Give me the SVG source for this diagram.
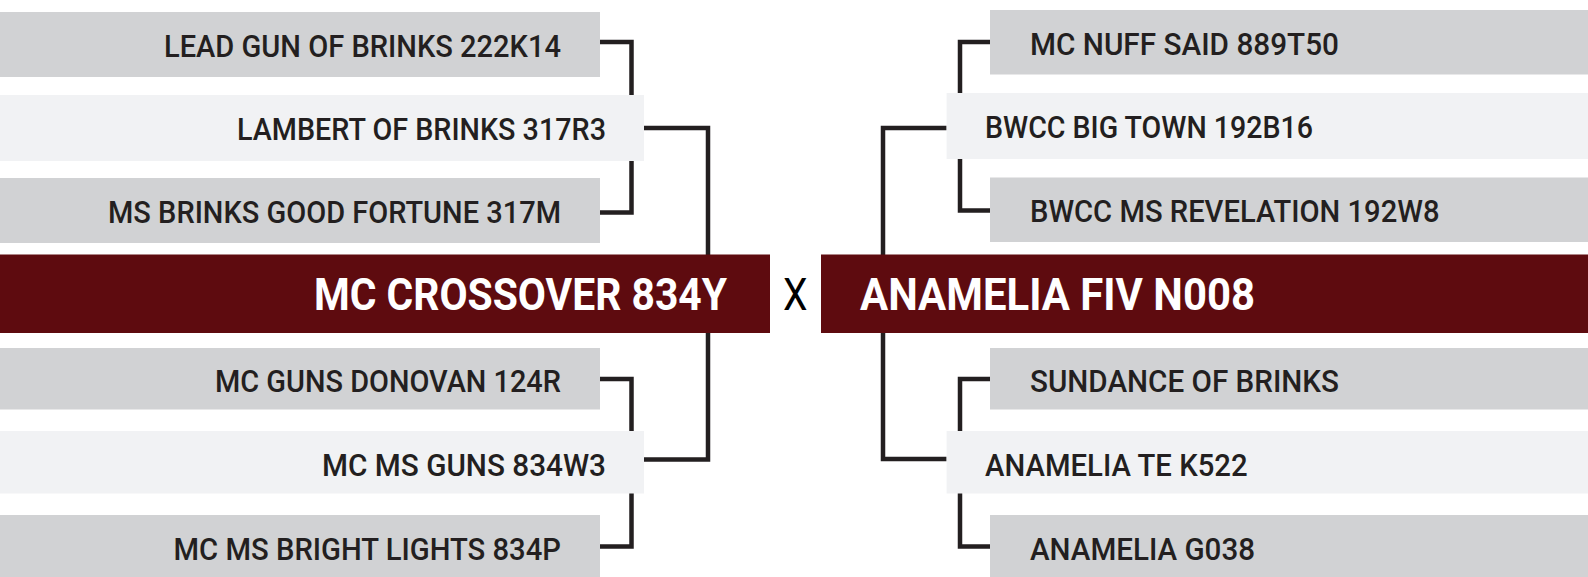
<svg xmlns="http://www.w3.org/2000/svg" width="1588" height="577" viewBox="0 0 1588 577">
<style>
.g{fill:#d1d2d4}
.l{fill:#f1f2f4}
.m{fill:#5e0b0f}
.t{font-family:Roboto,"Liberation Sans",sans-serif;font-size:32px;font-weight:500;fill:#231f20}
.tm{font-family:Roboto,"Liberation Sans",sans-serif;font-size:45px;font-weight:700;fill:#ffffff}
.x{font-family:Roboto,"Liberation Sans",sans-serif;font-size:45px;font-weight:400;fill:#000000}
.c{fill:none;stroke:#231f20;stroke-width:4.5;stroke-linejoin:miter}
</style>
<rect width="1588" height="577" fill="#ffffff"/>
<g id="connectors">
<path class="c" d="M600 42 H631.5 V95 M631.5 161 V212.5 H600"/>
<path class="c" d="M644 128 H708 V255 M708 333 V459.5 H644"/>
<path class="c" d="M600 379 H631.5 V431 M631.5 493 V546.5 H600"/>
<path class="c" d="M990 42 H960 V93 M960 159 V210.5 H990"/>
<path class="c" d="M946.6 128 H883 V255 M883 333 V459 H946.6"/>
<path class="c" d="M990 379 H960 V431 M960 493 V546.5 H990"/>
</g>
<g id="n-lead-gun"><rect class="g" x="0" y="12" width="600" height="65"/><text class="t" x="164" y="56.5" textLength="397" lengthAdjust="spacingAndGlyphs">LEAD GUN OF BRINKS 222K14</text></g>
<g id="n-lambert"><rect class="l" x="0" y="95" width="644" height="66"/><text class="t" x="237" y="140" textLength="369" lengthAdjust="spacingAndGlyphs">LAMBERT OF BRINKS 317R3</text></g>
<g id="n-good-fortune"><rect class="g" x="0" y="178" width="600" height="65"/><text class="t" x="108" y="222.5" textLength="453" lengthAdjust="spacingAndGlyphs">MS BRINKS GOOD FORTUNE 317M</text></g>
<g id="n-crossover"><rect class="m" x="0" y="254.5" width="770" height="78.5"/><text class="tm" x="314" y="310" textLength="413" lengthAdjust="spacingAndGlyphs">MC CROSSOVER 834Y</text></g>
<g id="n-donovan"><rect class="g" x="0" y="348" width="600" height="61.5"/><text class="t" x="215" y="391.5" textLength="346" lengthAdjust="spacingAndGlyphs">MC GUNS DONOVAN 124R</text></g>
<g id="n-ms-guns"><rect class="l" x="0" y="431" width="644" height="62.5"/><text class="t" x="322" y="476" textLength="284" lengthAdjust="spacingAndGlyphs">MC MS GUNS 834W3</text></g>
<g id="n-bright-lights"><rect class="g" x="0" y="515" width="600" height="62"/><text class="t" x="173.5" y="560" textLength="387.5" lengthAdjust="spacingAndGlyphs">MC MS BRIGHT LIGHTS 834P</text></g>
<g id="cross-x"><text class="x" x="783" y="310" textLength="24.5" lengthAdjust="spacingAndGlyphs">X</text></g>
<g id="n-nuff-said"><rect class="g" x="990" y="10" width="598" height="64.5"/><text class="t" x="1030" y="54.5" textLength="309" lengthAdjust="spacingAndGlyphs">MC NUFF SAID 889T50</text></g>
<g id="n-big-town"><rect class="l" x="946.6" y="93" width="641.4" height="66"/><text class="t" x="985" y="138" textLength="328" lengthAdjust="spacingAndGlyphs">BWCC BIG TOWN 192B16</text></g>
<g id="n-revelation"><rect class="g" x="990" y="177.5" width="598" height="64.5"/><text class="t" x="1030" y="221.5" textLength="409.5" lengthAdjust="spacingAndGlyphs">BWCC MS REVELATION 192W8</text></g>
<g id="n-anamelia-fiv"><rect class="m" x="821" y="254.5" width="767" height="78.5"/><text class="tm" x="860" y="310" textLength="395" lengthAdjust="spacingAndGlyphs">ANAMELIA FIV N008</text></g>
<g id="n-sundance"><rect class="g" x="990" y="348" width="598" height="61.5"/><text class="t" x="1030" y="391.5" textLength="309" lengthAdjust="spacingAndGlyphs">SUNDANCE OF BRINKS</text></g>
<g id="n-anamelia-te"><rect class="l" x="946.6" y="431" width="641.4" height="62.5"/><text class="t" x="985" y="476" textLength="262.6" lengthAdjust="spacingAndGlyphs">ANAMELIA TE K522</text></g>
<g id="n-anamelia-g038"><rect class="g" x="990" y="515" width="598" height="62"/><text class="t" x="1030" y="560" textLength="225" lengthAdjust="spacingAndGlyphs">ANAMELIA G038</text></g>
</svg>
